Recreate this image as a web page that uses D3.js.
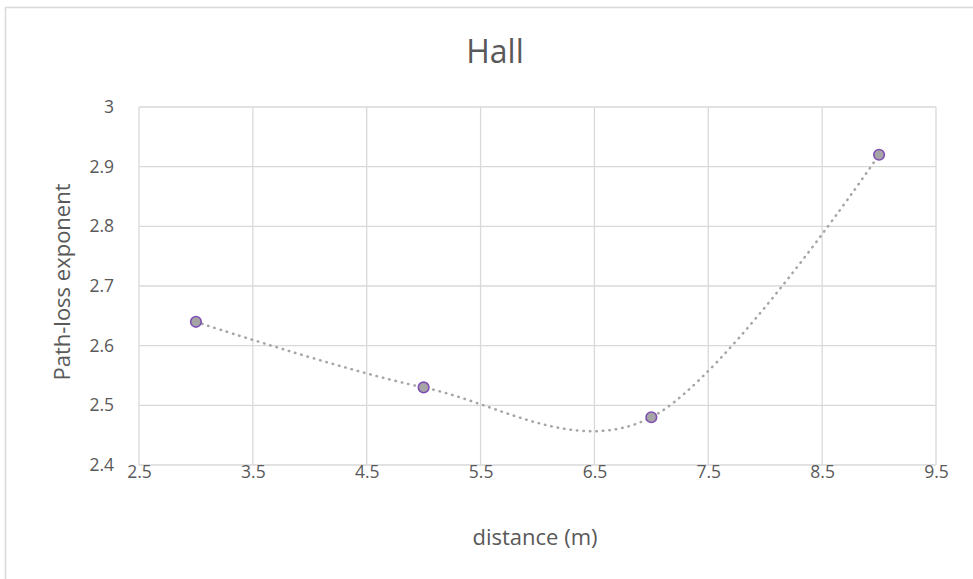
<!DOCTYPE html>
<html>
<head>
<meta charset="utf-8">
<script src="https://cdn.jsdelivr.net/npm/d3@7"></script>
<style>
  html, body { margin: 0; padding: 0; background: #fff; }
  svg { display: block; }
  text { font-family: "Open Sans", "Noto Sans", sans-serif; fill: #595959; }
</style>
</head>
<body>
<svg id="chart" width="973" height="579"></svg>
<script>
// Measured path-loss exponent in the hall, by distance
const distances = [3, 5, 7, 9];
const exponents = [2.64, 2.53, 2.48, 2.92];
const xTicks = [2.5, 3.5, 4.5, 5.5, 6.5, 7.5, 8.5, 9.5];
const yTicks = [2.4, 2.5, 2.6, 2.7, 2.8, 2.9, 3];

const svg = d3.select("#chart");
const W = 973, H = 579;
const plot = { left: 139, right: 936, top: 107, bottom: 465 };

// outer chart frame (its right and bottom edges run past the canvas)
svg.append("rect")
  .attr("x", 5.5).attr("y", 7.5)
  .attr("width", W + 10).attr("height", H + 10)
  .attr("fill", "#fff").attr("stroke", "#d9d9d9").attr("stroke-width", 1.5);

const x = d3.scaleLinear().domain([2.5, 9.5]).range([plot.left, plot.right]);
const y = d3.scaleLinear().domain([2.4, 3]).range([plot.bottom, plot.top]);

// gridlines
const grid = svg.append("g").attr("stroke", "#d9d9d9").attr("stroke-width", 1.3);
grid.selectAll("line.h").data(yTicks).join("line")
  .attr("x1", plot.left).attr("x2", plot.right)
  .attr("y1", d => y(d)).attr("y2", d => y(d));
grid.selectAll("line.v").data(xTicks).join("line")
  .attr("y1", plot.top).attr("y2", plot.bottom)
  .attr("x1", d => x(d)).attr("x2", d => x(d));

// axes (labels only; lines come from the grid)
const xAxis = svg.append("g")
  .attr("transform", `translate(0,${plot.bottom})`)
  .call(d3.axisBottom(x).tickValues(xTicks).tickSize(0).tickPadding(1).tickFormat(d3.format("")));
const yAxis = svg.append("g")
  .attr("transform", `translate(${plot.left},0)`)
  .call(d3.axisLeft(y).tickValues(yTicks).tickSize(0).tickPadding(25).tickFormat(d3.format("")));
[xAxis, yAxis].forEach(a => {
  a.select(".domain").remove();
  a.selectAll("text").attr("font-size", 17.5).attr("font-family", "\"Open Sans\", sans-serif").attr("fill", "#595959");
});

// smoothed dotted line through the points
const pts = distances.map((d, i) => [d, exponents[i]]);
const line = d3.line()
  .x(d => x(d[0])).y(d => y(d[1]))
  .curve(d3.curveCatmullRom.alpha(0));
svg.append("path")
  .datum(pts)
  .attr("d", line)
  .attr("fill", "none")
  .attr("stroke", "#a5a5a5")
  .attr("stroke-width", 2.5)
  .attr("stroke-linecap", "round")
  .attr("stroke-dasharray", "0.5,6");

// markers
svg.append("g").selectAll("circle").data(pts).join("circle")
  .attr("cx", d => x(d[0])).attr("cy", d => y(d[1]))
  .attr("r", 5.3)
  .attr("fill", "#a5a5a5")
  .attr("stroke", "#7f4fb3")
  .attr("stroke-width", 1.6);

// titles
svg.append("text")
  .attr("x", 495).attr("y", 63)
  .attr("text-anchor", "middle")
  .attr("font-size", 32)
  .text("Hall");

svg.append("text")
  .attr("x", 535).attr("y", 545)
  .attr("text-anchor", "middle")
  .attr("font-size", 22)
  .text("distance (m)");

svg.append("text")
  .attr("transform", "translate(70,282) rotate(-90)")
  .attr("text-anchor", "middle")
  .attr("font-size", 22)
  .text("Path-loss exponent");
</script>
</body>
</html>
